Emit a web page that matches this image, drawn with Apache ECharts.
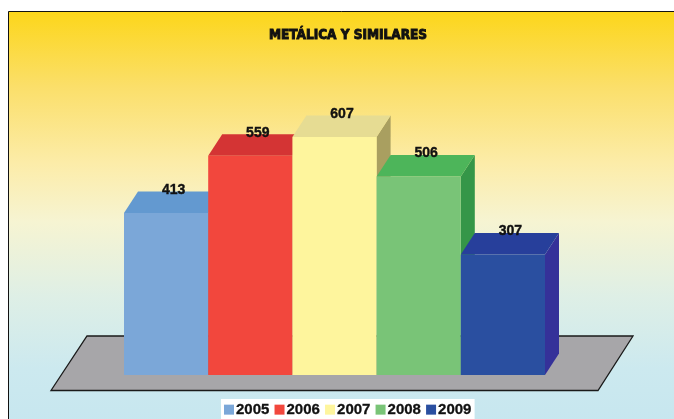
<!DOCTYPE html>
<html>
<head>
    <meta charset="utf-8">
    <title>Metálica y similares</title>
    <script src="https://cdn.jsdelivr.net/npm/echarts@6/dist/echarts.min.js"></script>
    <style>
        html, body { margin: 0; padding: 0; background: #fff; }
        #main { width: 674px; height: 419px; }
    </style>
</head>
<body>
    <div id="main"></div>
    <script>
        // datos
        var years = ['2005', '2006', '2007', '2008', '2009'];
        var values = [413, 559, 607, 506, 307];
        var frontColors = ['#7BA7D8', '#F2473D', '#FEF59D', '#79C477', '#2A4FA0'];
        var topColors = ['#6399D0', '#D43434', '#E6DC93', '#4DB55A', '#273F9B'];
        var sideColors = ['#4F7FB5', '#B02A2A', '#A99F60', '#359648', '#353199'];

        var depthX = 14, depthY = 21.5;

        function renderBar(params, api) {
            var top = api.coord([api.value(0), api.value(1)]);
            var base = api.coord([api.value(0), 0]);
            var w = api.size([1, 0])[0];
            var x0 = top[0] - w / 2, x1 = top[0] + w / 2;
            var yt = top[1], yb = base[1];
            var i = params.seriesIndex;
            return {
                type: 'group',
                children: [
                    {
                        type: 'polygon',
                        shape: { points: [[x1, yt], [x1 + depthX, yt - depthY], [x1 + depthX, yb - depthY], [x1, yb]] },
                        style: { fill: sideColors[i] }
                    },
                    {
                        type: 'polygon',
                        shape: { points: [[x0, yt], [x1, yt], [x1 + depthX, yt - depthY], [x0 + depthX, yt - depthY]] },
                        style: { fill: topColors[i] }
                    },
                    {
                        type: 'rect',
                        shape: { x: x0, y: yt, width: w, height: yb - yt },
                        style: { fill: frontColors[i] }
                    },
                    {
                        type: 'text',
                        x: top[0] + 7.5,
                        y: yt - 23,
                        style: {
                            text: String(api.value(1)),
                            align: 'center',
                            verticalAlign: 'middle',
                            font: 'bold 14px "Liberation Sans", Arial, sans-serif',
                            fill: '#111',
                            stroke: '#111',
                            lineWidth: 0.4
                        }
                    }
                ]
            };
        }

        var series = years.map(function (y, i) {
            return {
                name: y,
                type: 'custom',
                renderItem: renderBar,
                itemStyle: { color: frontColors[i] },
                data: [[i, values[i]]],
                z: 2 + i
            };
        });

        var chart = echarts.init(document.getElementById('main'));
        var option = {
            animation: false,
            title: {
                text: 'METÁLICA Y SIMILARES',
                left: 343,
                textAlign: 'center',
                top: 23,
                textStyle: {
                    fontFamily: '"DejaVu Sans Condensed", sans-serif',
                    fontWeight: 'bold',
                    fontSize: 13.5,
                    color: '#111',
                    textBorderColor: '#111',
                    textBorderWidth: 0.9
                }
            },
            legend: {
                data: years,
                left: 221,
                top: 399,
                backgroundColor: '#fff',
                padding: [3, 3, 4, 3],
                itemWidth: 10,
                itemHeight: 10,
                itemGap: 5,
                icon: 'rect',
                textStyle: {
                    fontFamily: '"Liberation Sans", Arial, sans-serif',
                    fontWeight: 'bold',
                    fontSize: 15,
                    color: '#111',
                    textBorderColor: '#111',
                    textBorderWidth: 0.3,
                    padding: [0, 0, 0, -3]
                }
            },
            grid: { left: 124, right: 129, top: 100.4, bottom: 44 },
            xAxis: {
                type: 'category',
                data: years,
                show: false
            },
            yAxis: {
                type: 'value',
                min: 0,
                max: 700,
                show: false
            },
            graphic: [
                {
                    type: 'rect',
                    z: -10,
                    shape: { x: 8.5, y: 11.5, width: 680, height: 420 },
                    style: {
                        stroke: '#111',
                        lineWidth: 1,
                        fill: {
                            type: 'linear', x: 0, y: 0, x2: 0, y2: 1,
                            colorStops: [
                                { offset: 0, color: '#FCD61A' },
                                { offset: 0.18, color: '#FBDF6A' },
                                { offset: 0.36, color: '#FCECA8' },
                                { offset: 0.5, color: '#F6F4D2' },
                                { offset: 0.68, color: '#DEEFE6' },
                                { offset: 0.85, color: '#CCE9EF' },
                                { offset: 1, color: '#C6E6EF' }
                            ]
                        }
                    }
                },
                {
                    type: 'polygon',
                    z: -5,
                    shape: { points: [[87, 336], [633, 336], [598, 390.5], [51, 390.5]] },
                    style: { fill: '#A7A6A9', stroke: '#1a1a1a', lineWidth: 1.3 }
                }
            ],
            series: series
        };
        chart.setOption(option);
    </script>
</body>
</html>
